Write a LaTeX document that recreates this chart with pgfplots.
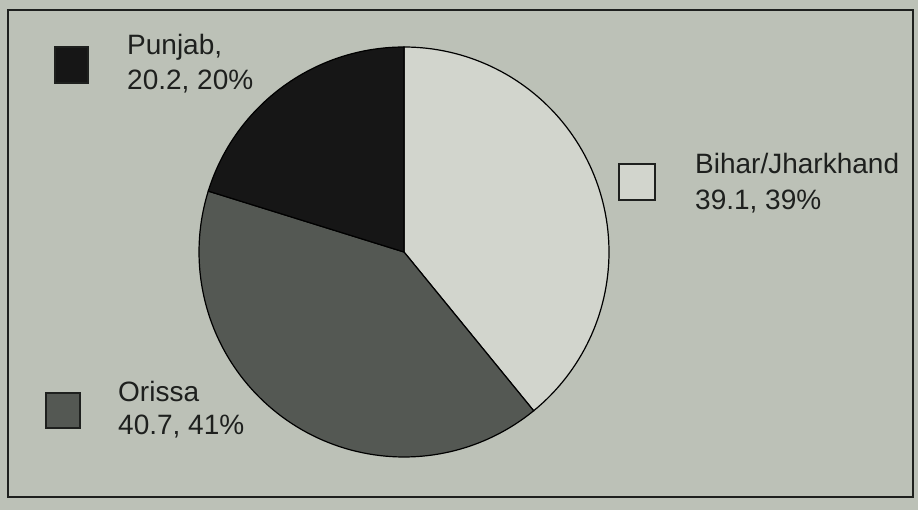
\documentclass[border=0pt]{standalone}
\usepackage{pgfplots}
\pgfplotsset{compat=1.18}
\usepackage{pgfplotstable}
\usepackage{fontspec}
\setmainfont{Liberation Sans}
\definecolor{bg}{RGB}{188,193,183}
\definecolor{sliceW}{RGB}{210,213,205}
\definecolor{sliceG}{RGB}{84,88,83}
\definecolor{sliceB}{RGB}{22,22,22}
\definecolor{txt}{RGB}{30,32,30}
\pgfplotstableread{
label value
Bihar 39.1
Orissa 40.7
Punjab 20.2
}\piedata
\pgfplotstablegetelem{0}{value}\of\piedata \let\vA\pgfplotsretval
\pgfplotstablegetelem{1}{value}\of\piedata \let\vB\pgfplotsretval
\pgfplotstablegetelem{2}{value}\of\piedata \let\vC\pgfplotsretval
\pgfmathsetmacro\aA{90-3.6*\vA}
\pgfmathsetmacro\aB{\aA-3.6*\vB}
\pgfmathsetmacro\aC{\aB-3.6*\vC}
\begin{document}
\begin{tikzpicture}
\begin{axis}[
  scale only axis, width=918pt, height=510pt,
  xmin=0, xmax=918, ymin=0, ymax=510,
  hide axis, clip=false,
]
\path[fill=bg] (0,0) rectangle (918,510);
\draw[line width=1.8pt, color=txt] (8,500) rectangle (913,13);
% pie slices
\addplot[fill=sliceW, draw=black, line width=1.2pt, domain=\aA:90, samples=90, variable=\t]
  ({404+205*cos(\t)},{258+205*sin(\t)}) -- (404,258) -- cycle;
\addplot[fill=sliceG, draw=black, line width=1.2pt, domain=\aB:\aA, samples=90, variable=\t]
  ({404+205*cos(\t)},{258+205*sin(\t)}) -- (404,258) -- cycle;
\addplot[fill=sliceB, draw=black, line width=1.2pt, domain=\aC:\aB, samples=60, variable=\t]
  ({404+205*cos(\t)},{258+205*sin(\t)}) -- (404,258) -- cycle;
% legend entries
\filldraw[fill=sliceB, draw=txt, line width=1.2pt] (55,463) rectangle (88,427);
\filldraw[fill=sliceW, draw=txt, line width=1.2pt] (619,346) rectangle (655,310);
\filldraw[fill=sliceG, draw=txt, line width=1.2pt] (46,117) rectangle (80,82);
\begin{scope}[every node/.style={anchor=base west, inner sep=0pt, text=txt, font=\fontsize{28}{33}\selectfont}]
\node at (127,455) {Punjab,};
\node at (127,420) {20.2, 20\%};
\node at (695,336) {Bihar/Jharkhand};
\node at (695,300) {39.1, 39\%};
\node at (118,108) {Orissa};
\node at (118,75) {40.7, 41\%};
\end{scope}
\end{axis}
\end{tikzpicture}
\end{document}
